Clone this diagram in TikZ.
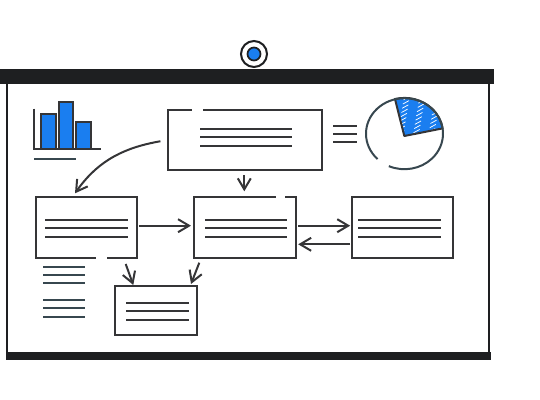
\documentclass[tikz,border=0pt]{standalone}
\usepackage{xcolor}
\usepackage{tikz}
\usetikzlibrary{arrows.meta,positioning,calc}

\definecolor{ink}{HTML}{1E1F21}
\definecolor{slate}{HTML}{37474F}
\definecolor{azure}{HTML}{1A7EF0}

\newcommand{\slicepath}{(404.3,136) -- (395,99) arc[start angle=-104.3, end angle=-8.1, x radius=38.5, y radius=35.5] -- cycle}

\begin{document}
\begin{tikzpicture}[x=0.2mm, y=-0.2mm,
  panel/.style={rectangle, draw=ink!90, line width=0.4mm, inner sep=0pt, outer sep=0pt},
  txt/.style={draw=ink!90, line width=0.4mm},
  note/.style={draw=slate, line width=0.4mm},
  arr/.style={-{Straight Barb[length=2.2mm, width=2.6mm]}, draw=ink!90, line width=0.4mm},
  gap/.style={draw=white, line width=0.9mm},
  bar/.style={draw=ink!90, fill=azure, line width=0.4mm}
]
\useasboundingbox (0,0) rectangle (540,400);

% Screen frame
\fill[ink] (0,68.5) rectangle (494,84);
\draw[ink, line width=0.5mm] (7,84) -- (7,352);
\draw[ink, line width=0.5mm] (489,84) -- (489,352);
\fill[ink] (6,352) rectangle (491,360);

\node[circle, draw=ink, fill=white, line width=0.4mm, minimum size=5.2mm, inner sep=0pt] (knob) at (254,54) {};
\node[circle, draw=ink, fill=azure, line width=0.35mm, minimum size=2.6mm, inner sep=0pt] (dot) at (knob.center) {};

% Bar chart
\draw[bar] (41.3,149.3) rectangle (55.7,114);
\draw[bar] (58.7,149.3) rectangle (73,102.3);
\draw[bar] (76.3,149.3) rectangle (90.7,121.7);
\draw[txt] (34.3,108.7) -- (34.3,149.3) -- (101,149.3);
\draw[note] (34.3,159.3) -- (76.3,159.3);

% Pie chart
\fill[azure] \slicepath;
\begin{scope}
  \clip \slicepath;
  \foreach \i [evaluate=\i as \ph using {mod(\i*5,11)}] in {0,...,24}
    \draw[white, line width=0.15mm, dash pattern=on 4pt off 7pt, dash phase=\ph pt] (285+\i*7,165) -- ++(120,-66);
\end{scope}
\draw[draw=ink!90, line width=0.4mm, line join=round] \slicepath;
\draw[draw=slate, line width=0.4mm] (404.5,133.7) ++(134.4:38.5 and 35.5) arc[start angle=134.4, end angle=474, x radius=38.5, y radius=35.5];
\foreach \y in {126,134,142.3}
  \draw[txt] (333.3,\y) -- (357.3,\y);

% Boxes
\node[panel, minimum width=30.68mm, minimum height=12.06mm] (head) at (245,139.85) {};
\node[panel, minimum width=20.32mm, minimum height=12.08mm] (stepa) at (86.5,227.5) {};
\node[panel, minimum width=20.34mm, minimum height=12.08mm] (stepb) at (244.85,227.5) {};
\node[panel, minimum width=20.26mm, minimum height=12.08mm] (stepc) at (402.35,227.5) {};
\node[panel, minimum width=16.28mm, minimum height=9.74mm] (sink) at (156,310.35) {};

\draw[gap] (191.7,109.7) -- (202.7,109.7);
\draw[gap] (95.7,257.7) -- (106.7,257.7);
\draw[gap] (276,197.3) -- (285,197.3);

% Lines of text
\foreach \y in {128.7,137.3,146}
  \draw[txt] (200,\y) -- (291.7,\y);
\foreach \y in {219.7,228.3,237} {
  \draw[txt] (45.3,\y) -- (127.7,\y);
  \draw[txt] (205,\y) -- (287.3,\y);
  \draw[txt] (358.3,\y) -- (441,\y);
}
\foreach \y in {302.7,311.3,320}
  \draw[txt] (126,\y) -- (189,\y);
\foreach \y in {266.7,274.7,283,300.3,308.3,316.7}
  \draw[note] (43,\y) -- (85.3,\y);

% Arrows
\draw[arr, shorten <=1.6mm] (head.west) to[out=190, in=55] ([xshift=-2.3mm, yshift=0.8mm]stepa.north);
\draw[arr, shorten <=1mm, shorten >=1.2mm] (head.south -| 244.3,0) -- (stepb.north -| 244.3,0);
\draw[arr, shorten <=0.3mm, shorten >=0.6mm] ([yshift=0.36mm]stepa.east) -- ([yshift=0.36mm]stepb.west);
\draw[arr, shorten <=0.5mm, shorten >=0.3mm] ([yshift=0.36mm]stepb.east) -- ([yshift=0.36mm]stepc.west);
\draw[arr, shorten <=0.3mm, shorten >=0.5mm] ([yshift=-3.36mm]stepc.west) -- ([yshift=-3.36mm]stepb.east);
\draw[arr] ([xshift=7.84mm, yshift=-1.26mm]stepa.south) -- ([xshift=-4.54mm, yshift=0.2mm]sink.north);
\draw[arr] ([xshift=-9.11mm, yshift=-1mm]stepb.south) -- ([xshift=7mm, yshift=0.4mm]sink.north);

\end{tikzpicture}
\end{document}
